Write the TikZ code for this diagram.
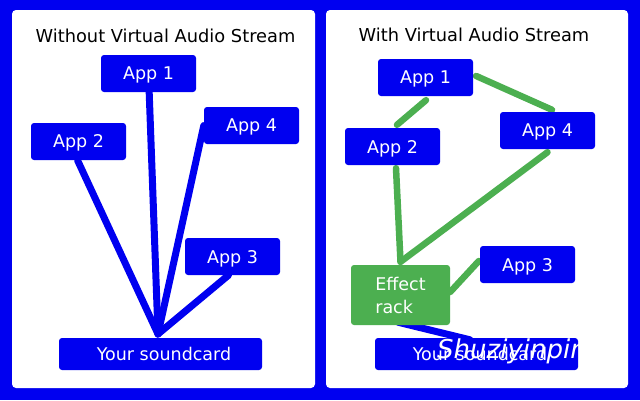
\documentclass[tikz,border=0pt]{standalone}
\usepackage{fontspec}
\setmainfont{DejaVu Sans}
\usetikzlibrary{calc}
\definecolor{bgblue}{RGB}{0,0,240}
\definecolor{fxgreen}{RGB}{76,175,80}
\pgfdeclarelayer{backdrop}
\pgfdeclarelayer{links}
\pgfsetlayers{backdrop,links,main}
\begin{document}
\begin{tikzpicture}[x=1pt,y=-1pt,
  panel/.style={fill=white,rounded corners=4pt},
  titletext/.style={font=\fontsize{17.8}{21}\selectfont,inner sep=0pt,text=black},
  appbox/.style={fill=bgblue,rounded corners=3pt,minimum width=95pt,minimum height=37pt,inner sep=0pt,text=white,font=\fontsize{17.5}{21}\selectfont,text depth=0pt},
  cardbox/.style={appbox,minimum width=203pt,minimum height=32pt},
  fxbox/.style={fill=fxgreen,rounded corners=3pt,minimum width=99pt,minimum height=60pt,inner sep=0pt,text=white,align=left,font=\fontsize{17.5}{23}\selectfont},
  bluelink/.style={draw=bgblue,line width=7pt,line cap=round},
  greenlink/.style={draw=fxgreen,line width=6.5pt,line cap=round},
  mark text/.style={font=\fontsize{26}{30}\selectfont\itshape,text=white,inner sep=0pt,anchor=base west}
  ]
\useasboundingbox (0,0) rectangle (640,400);
\begin{pgfonlayer}{backdrop}
  \fill[bgblue] (0,0) rectangle (640,400);
  \fill[panel] (12,10) rectangle (315,388);
  \fill[panel] (326,10) rectangle (628,388);
\end{pgfonlayer}

% left panel
\node[titletext] (ltitle) at (165.5,36.3) {Without Virtual Audio Stream};
\node[appbox] (la1) at (148.5,73.5) {App 1};
\node[appbox] (la4) at (251.5,125.5) {App 4};
\node[appbox] (la2) at (78.5,141.5) {App 2};
\node[appbox] (la3) at (232.5,256.5) {App 3};
\node[cardbox] (lsc) at (160.5,354) {\hspace*{7pt}Your soundcard};
\coordinate (hub) at (158,334);

% right panel
\node[titletext] (rtitle) at (474,35) {With Virtual Audio Stream};
\node[appbox] (ra1) at (425.5,77.5) {App 1};
\node[appbox] (ra2) at (392.5,146.5) {App 2};
\node[appbox] (ra4) at (547.5,130.5) {App 4};
\node[appbox] (ra3) at (527.5,264.5) {App 3};
\node[fxbox] (fx) at (400.5,295) {Effect\\rack\hspace*{3pt}};
\node[cardbox] (rsc) at (476.5,354) {\hspace*{7pt}Your soundcard};

\begin{pgfonlayer}{links}
  \draw[bluelink] (la1.center) -- (hub);
  \draw[bluelink] ($(la2.south)+(-1,0)$) -- (hub);
  \draw[bluelink] (la4.west) -- (hub);
  \draw[bluelink] ($(la3.south)+(-4,0)$) -- (hub);
  \draw[bluelink] ($(fx.south)+(-2.5,-3)$) -- ($(rsc.north)+(-6.5,2)$);
  \draw[greenlink] ($(ra1.south)+(0.5,4)$) -- ($(ra2.north)+(4.5,-3)$);
  \draw[greenlink] ($(ra1.east)+(3,-1.5)$) -- ($(ra4.north)+(4.5,-2)$);
  \draw[greenlink] ($(ra2.south)+(3.5,3)$) -- ($(fx.north)+(0,-3)$);
  \draw[greenlink] ($(ra4.south)+(0,3)$) -- ($(fx.north)+(0,-3)$);
  \draw[greenlink] ($(ra3.west)+(-1,-3.5)$) -- ($(fx.east)+(0,-3)$);
\end{pgfonlayer}

\node[mark text] (wm) at (437,358) {Shuziyinpin};
\end{tikzpicture}
\end{document}
